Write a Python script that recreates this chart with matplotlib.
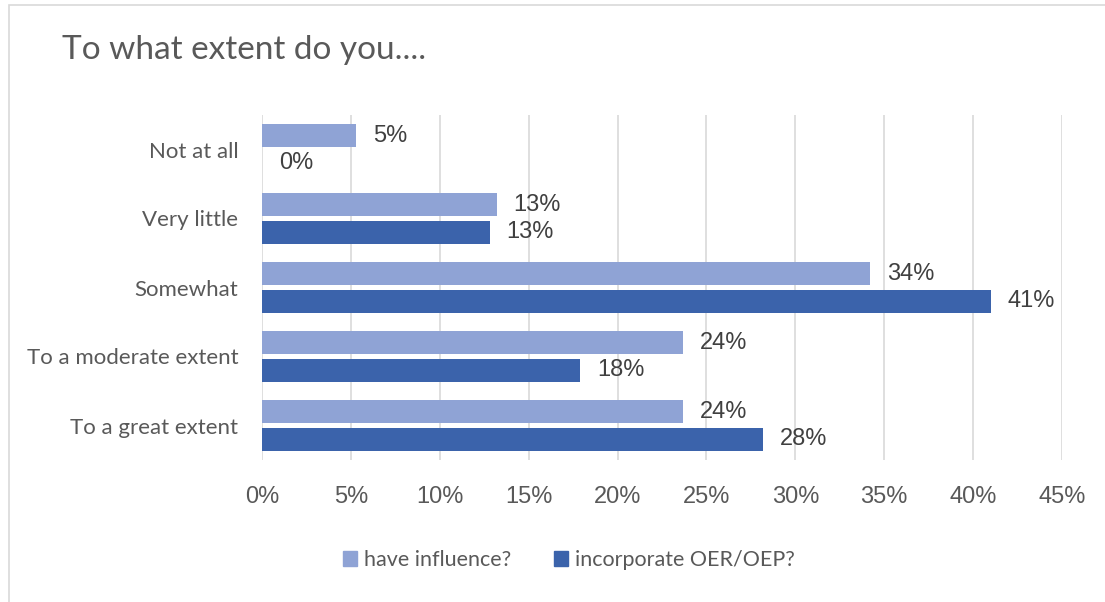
import matplotlib.pyplot as plt
from matplotlib.patches import Rectangle, Patch
import numpy as np

categories = ['Not at all', 'Very little', 'Somewhat', 'To a moderate extent', 'To a great extent']
influence = [5.3, 13.2, 34.2, 23.7, 23.7]
incorporate = [0.0, 12.8, 41.0, 17.9, 28.2]
series_names = ['have influence?', 'incorporate OER/OEP?']
xticks = [0, 5, 10, 15, 20, 25, 30, 35, 40, 45]

light = '#8FA3D5'
dark = '#3B63AB'
label_font = ['Lato', 'DejaVu Sans']
num_font = ['Liberation Sans', 'DejaVu Sans']

fig = plt.figure(figsize=(11.05, 6.02), dpi=100)

# light border round the chart
fig.patches.append(Rectangle((9 / 1105, -0.01), 1.02, 1 - 5 / 602 + 0.01,
                             transform=fig.transFigure, fill=False,
                             edgecolor='#D9D9D9', linewidth=1.2))

ax = fig.add_axes([262 / 1105, 1 - 460 / 602, 800 / 1105, 345 / 602])

y = np.arange(len(categories))
h = 0.326
off = 0.2
b1 = ax.barh(y - off, influence, height=h, color=light)
b2 = ax.barh(y + off, incorporate, height=h, color=dark)

for bars, vals in ((b1, influence), (b2, incorporate)):
    for bar, v in zip(bars, vals):
        ax.annotate(f'{v:.0f}%', (v, bar.get_y() + bar.get_height() / 2),
                    xytext=(12, 0), textcoords='offset points',
                    va='center', ha='left', fontsize=17, color='#404040',
                    family=num_font)

ax.set_ylim(len(categories) - 0.5, -0.5)
ax.set_xlim(0, 45)
ax.set_xticks(xticks)
ax.set_xticklabels([f'{t}%' for t in xticks], fontsize=17, color='#595959',
                   family=num_font)
ax.set_yticks(y)
ax.set_yticklabels(categories, fontsize=16, color='#595959', family=label_font)
ax.tick_params(length=0)
ax.tick_params(axis='x', pad=19)
ax.tick_params(axis='y', pad=17)
ax.grid(axis='x', color='#D9D9D9', linewidth=1.2)
ax.set_axisbelow(True)
for s in ax.spines.values():
    s.set_visible(False)

fig.text(62 / 1105, 1 - 50 / 602, 'To what extent do you....', fontsize=24,
         color='#595959', family=label_font, va='center', ha='left')

handles = [Patch(color=light), Patch(color=dark)]
fig.legend(handles, series_names, loc='center', bbox_to_anchor=(569 / 1105, 1 - 560 / 602),
           ncol=2, frameon=False, prop={'family': label_font, 'size': 15.5},
           labelcolor='#595959', handlelength=0.65, handleheight=0.65,
           handletextpad=0.3, columnspacing=2.0)

fig.savefig('out.png', dpi=100)
